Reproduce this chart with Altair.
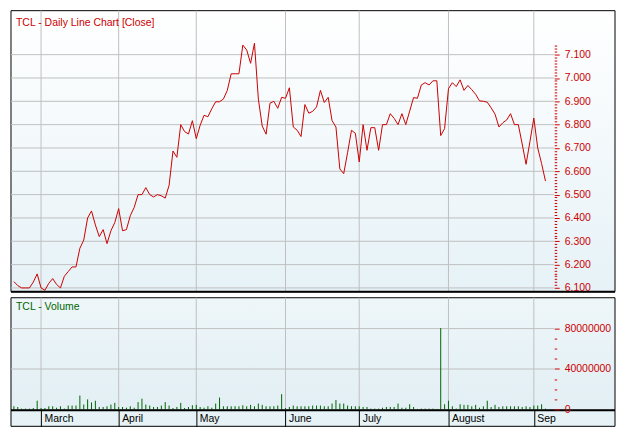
import altair as alt
import pandas as pd

# ---- data (trading-day index 0 = 20 Feb 2013 ... 137 = 5 Sep 2013) ----
CLOSE = [6.127, 6.11, 6.10, 6.10, 6.10, 6.125, 6.16, 6.10, 6.09, 6.12,
         6.14, 6.115, 6.10, 6.15, 6.17, 6.19, 6.19, 6.27, 6.305, 6.40,
         6.43, 6.37, 6.32, 6.35, 6.29, 6.345, 6.38, 6.44, 6.345, 6.35,
         6.41, 6.445, 6.50, 6.50, 6.53, 6.50, 6.49, 6.50, 6.495, 6.485,
         6.54, 6.687, 6.66, 6.80, 6.77, 6.76, 6.817, 6.74, 6.797, 6.84,
         6.834, 6.868, 6.898, 6.898, 6.91, 6.947, 7.018, 7.018, 7.018, 7.141,
         7.12, 7.063, 7.149, 6.91, 6.794, 6.759, 6.892, 6.90, 6.87, 6.917,
         6.913, 6.958, 6.79, 6.776, 6.749, 6.886, 6.849, 6.857, 6.876, 6.947,
         6.895, 6.917, 6.817, 6.79, 6.61, 6.59, 6.68, 6.776, 6.763, 6.64,
         6.80, 6.69, 6.787, 6.787, 6.69, 6.80, 6.80, 6.847, 6.827, 6.80,
         6.847, 6.80, 6.858, 6.916, 6.913, 6.97, 6.98, 6.97, 6.988, 6.988,
         6.753, 6.783, 6.954, 6.98, 6.963, 6.992, 6.947, 6.968, 6.95, 6.93,
         6.902, 6.90, 6.896, 6.872, 6.845, 6.79, 6.808, 6.82, 6.847, 6.80,
         6.80, 6.717, 6.63, 6.728, 6.828, 6.70, 6.633, 6.558]

VOLUME_M = [3.1, 2.4, 0.8, 0.8, 0.8, 1.4, 8.6, 1.4, 1.4, 3.1,
            3.1, 1.7, 3.1, 0.8, 3.8, 3.8, 3.8, 13.7, 4.8, 9.9,
            6.9, 8.6, 2.4, 2.4, 3.1, 4.8, 6.5, 2.4, 2.4, 1.7,
            3.1, 1.7, 7.2, 10.6, 4.8, 3.8, 2.4, 2.4, 3.8, 7.2,
            3.8, 1.4, 2.4, 6.5, 1.4, 2.4, 4.1, 4.5, 2.4, 1.7,
            3.1, 1.7, 5.8, 11.7, 3.1, 3.1, 3.1, 3.1, 3.1, 4.1,
            3.1, 4.5, 3.1, 5.8, 4.5, 3.1, 3.1, 3.1, 3.8, 15.1,
            1.4, 2.4, 3.8, 3.1, 3.1, 3.1, 3.1, 3.8, 3.8, 3.8,
            3.1, 3.1, 5.8, 9.3, 5.8, 5.8, 3.8, 3.1, 3.1, 3.1,
            2.4, 2.4, 0.8, 0.8, 0.8, 1.7, 2.4, 2.4, 2.4, 5.8,
            1.7, 1.7, 5.1, 2.4, 0.5, 0.8, 0.8, 0.8, 0.8, 0.5,
            80.5, 5.1, 8.6, 3.1, 0.8, 5.1, 4.5, 4.5, 3.1, 4.5,
            1.7, 3.1, 8.6, 2.4, 4.5, 2.4, 3.1, 3.1, 3.1, 3.1,
            3.1, 2.4, 3.1, 2.4, 3.8, 3.8, 5.1, 0.8]

MONTH_IDX = [7, 27, 47, 70, 89, 112, 134]
MONTH_NAMES = ["March", "April", "May", "June", "July", "August", "Sep"]

PRICE_TICKS = [6.1, 6.2, 6.3, 6.4, 6.5, 6.6, 6.7, 6.8, 6.9, 7.0, 7.1]
PRICE_MINOR_STEP = 0.0125
PRICE_MINOR_COUNT = 84
VOL_TICKS = [0, 40000000, 80000000]
VOL_MINOR = [0, 10000000, 20000000, 30000000, 40000000, 50000000,
             60000000, 70000000, 80000000]

PRICE_TITLE = "TCL - Daily Line Chart [Close]"
VOL_TITLE = "TCL - Volume"

# ---- layout / style ----
W = 545
HP = 282
HV = 113
HX = 16
AX = 62
FONT = "Liberation Sans"
RED = "#cc0000"
GREEN = "#006600"
GRID = "#c0c0c0"

X_DOMAIN = [-0.75, 139.25]
P_DOMAIN = [6.0836, 7.2885]
V_DOMAIN = [-950000, 110500000]

df = pd.DataFrame({
    "i": list(range(len(CLOSE))),
    "close": CLOSE,
    "volume": [v * 1e6 for v in VOLUME_M],
})
months = pd.DataFrame({"m": MONTH_IDX, "name": MONTH_NAMES})
pgrid = pd.DataFrame({"v": PRICE_TICKS})
vgrid = pd.DataFrame({"v": [t for t in VOL_TICKS if t > 0]})
one = pd.DataFrame({"a": [0]})

price_values = [round(6.1 + k * PRICE_MINOR_STEP, 4) for k in range(PRICE_MINOR_COUNT)]
major_p = "abs(datum.value*10 - round(datum.value*10)) < 0.001"
major_v = "datum.value % 40000000 == 0"

month_expr = " : ".join(
    f"datum.value == {m} ? '{n}'" for m, n in zip(MONTH_IDX, MONTH_NAMES)
) + " : ''"

xs = alt.Scale(domain=X_DOMAIN, nice=False, zero=False)
ps = alt.Scale(domain=P_DOMAIN, nice=False, zero=False)
vs = alt.Scale(domain=V_DOMAIN, nice=False, zero=False)

x_none = alt.Axis(labels=False, ticks=False, domain=False, grid=False, title=None)
x_months = alt.Axis(
    values=MONTH_IDX, labelExpr=month_expr, title=None, grid=False, domain=False,
    tickSize=HX, tickColor="#000000", labelColor="#000000", labelFont=FONT,
    labelFontSize=10.5, labelAlign="left", labelBaseline="top", labelPadding=-13,
    labelOffset=3, labelOverlap=False, labelBound=False, labelFlush=False,
    minExtent=HX, maxExtent=HX, zindex=1,
)
p_axis = alt.Axis(
    orient="right", values=price_values, title=None, grid=False, domain=False,
    labelExpr=f"{major_p} ? format(datum.value, '.3f') : ''",
    tickSize={"condition": {"test": major_p, "value": 5}, "value": 2.5},
    tickColor=RED, labelColor=RED, labelFont=FONT, labelFontSize=10.5,
    labelPadding=5, labelOverlap=False, labelBound=False, labelFlush=False,
    minExtent=AX, maxExtent=AX, zindex=1,
)
v_axis = alt.Axis(
    orient="right", values=VOL_MINOR, title=None, grid=False, domain=False,
    labelExpr=f"{major_v} ? format(datum.value, 'd') : ''",
    tickSize={"condition": {"test": major_v, "value": 5}, "value": 2.5},
    tickColor=RED, labelColor=RED, labelFont=FONT, labelFontSize=10.5,
    labelPadding=5, labelOverlap=False, labelBound=False, labelFlush=False,
    minExtent=AX, maxExtent=AX, zindex=1,
)


def bg(y0, y1, top, bottom):
    grad = alt.LinearGradient(
        gradient="linear",
        stops=[alt.GradientStop(color=top, offset=0),
               alt.GradientStop(color=bottom, offset=1)],
        x1=0, x2=0, y1=0, y2=1,
    )
    return alt.Chart(one).mark_rect(fill=grad, stroke="#000000", strokeWidth=1).encode(
        x=alt.value(0), x2=alt.value(W + AX - 1), y=alt.value(y0), y2=alt.value(y1)
    )


def bottom_rule(y):
    return alt.Chart(one).mark_rule(color="#000000", strokeWidth=2).encode(
        x=alt.value(0), x2=alt.value(W + AX - 1), y=alt.value(y)
    )


def vgrid_layer(h, xaxis):
    return alt.Chart(months).mark_rule(color=GRID, strokeWidth=1).encode(
        x=alt.X("m:Q", scale=xs, axis=xaxis), y=alt.value(0), y2=alt.value(h)
    )


# ---- price panel ----
p_bg = bg(0, HP, "#ffffff", "#e6f2f7")
p_hgrid = alt.Chart(pgrid).mark_rule(color=GRID, strokeWidth=1).encode(
    y=alt.Y("v:Q", scale=ps, axis=p_axis), x=alt.value(0), x2=alt.value(W)
)
p_line = alt.Chart(df).mark_line(color=RED, strokeWidth=1).encode(
    x=alt.X("i:Q", scale=xs, axis=x_none),
    y=alt.Y("close:Q", scale=ps, axis=p_axis),
)
p_title = alt.Chart(one).mark_text(
    text=PRICE_TITLE, color=RED, font=FONT, fontSize=10.5, align="left", baseline="alphabetic"
).encode(x=alt.value(5), y=alt.value(15))

price = alt.layer(
    p_bg, p_hgrid, vgrid_layer(HP, x_none), p_line, p_title, bottom_rule(HP)
).properties(width=W, height=HP)

# ---- volume panel ----
v_bg = bg(0, HV, "#eef6f9", "#e2eff4")
x_row = bg(HV, HV + HX, "#e6f2f6", "#e6f2f6")
v_hgrid = alt.Chart(vgrid).mark_rule(color=GRID, strokeWidth=1).encode(
    y=alt.Y("v:Q", scale=vs, axis=v_axis), x=alt.value(0), x2=alt.value(W)
)
v_bars = alt.Chart(df).mark_rule(color=GREEN, strokeWidth=1).encode(
    x=alt.X("i:Q", scale=xs, axis=x_months),
    y=alt.Y("volume:Q", scale=vs, axis=v_axis),
    y2=alt.datum(0),
)
v_title = alt.Chart(one).mark_text(
    text=VOL_TITLE, color=GREEN, font=FONT, fontSize=10.5, align="left", baseline="alphabetic"
).encode(x=alt.value(5), y=alt.value(12.5))

volume = alt.layer(
    x_row, v_bg, v_hgrid, vgrid_layer(HV, x_months), v_bars, v_title, bottom_rule(HV)
).properties(width=W, height=HV)

chart = alt.vconcat(price, volume, spacing=2).properties(
    padding={"left": 1, "top": 1, "right": 0, "bottom": 1},
    background="#ffffff",
).configure_view(stroke="transparent")

chart.save("out.html", embed_options={"renderer": "svg", "actions": False})
